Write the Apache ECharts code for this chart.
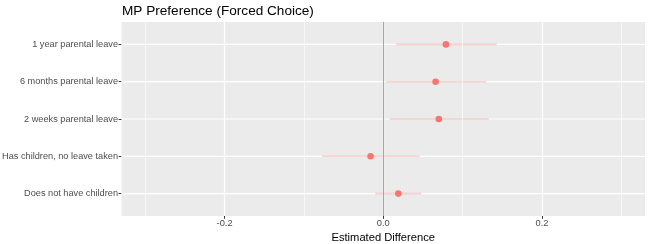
<!DOCTYPE html>
<html>
<head>
<meta charset="utf-8">
<script src="https://cdn.jsdelivr.net/npm/echarts@6/dist/echarts.min.js"></script>
<style>
html,body{margin:0;padding:0;background:#fff;}
#chart{width:648px;height:244px;}
</style>
</head>
<body>
<div id="chart"></div>
<script>
const titleText = 'MP Preference (Forced Choice)';
const xAxisTitle = 'Estimated Difference';
const categories = ['1 year parental leave', '6 months parental leave', '2 weeks parental leave', 'Has children, no leave taken', 'Does not have children'];
const estimates = [0.079, 0.066, 0.070, -0.016, 0.019];
const lowerCI = [0.016, 0.004, 0.008, -0.077, -0.010];
const upperCI = [0.143, 0.130, 0.133, 0.046, 0.048];
const xTickValues = [-0.2, 0, 0.2];
const xMinorValues = [-0.3, -0.1, 0.1, 0.3];
const xRange = [-0.33, 0.33];
const yRange = [-0.6, 4.6];
const referenceLine = [0];

const FONT = '"Liberation Sans", Arial, sans-serif';
const catIdx = categories.map((c, i) => i);

const chart = echarts.init(document.getElementById('chart'), null, {renderer: 'canvas'});

const vGrid = []
  .concat(xMinorValues.map(v => ({xAxis: v, lineStyle: {color: '#ffffff', width: 0.6, type: 'solid'}})))
  .concat(xTickValues.map(v => ({xAxis: v, lineStyle: {color: '#ffffff', width: 1.2, type: 'solid'}})));

const option = {
  animation: false,
  backgroundColor: '#ffffff',
  title: {
    text: titleText,
    left: 122,
    top: 4,
    padding: 0,
    textStyle: {fontFamily: FONT, fontSize: 13.6, fontWeight: 'normal', color: '#000000'}
  },
  grid: {
    left: 121.5, right: 3, top: 22, bottom: 28,
    show: true, backgroundColor: '#EBEBEB', borderWidth: 0,
    containLabel: false,
    outerBoundsMode: 'none'
  },
  xAxis: {
    type: 'value',
    position: 'bottom',
    min: xRange[0], max: xRange[1],
    name: xAxisTitle,
    nameLocation: 'middle',
    nameGap: 9,
    nameTextStyle: {fontFamily: FONT, fontSize: 11.2, color: '#000000'},
    axisLine: {show: false, onZero: false},
    axisTick: {show: true, customValues: xTickValues, length: 2.8, lineStyle: {color: '#333333', width: 1}},
    axisLabel: {
      show: true, customValues: xTickValues, margin: 3,
      fontFamily: FONT, fontSize: 9.3, color: '#4D4D4D',
      formatter: v => v.toFixed(1)
    },
    splitLine: {show: false}
  },
  yAxis: {
    type: 'value',
    position: 'left',
    min: yRange[0], max: yRange[1],
    inverse: true,
    axisLine: {show: false, onZero: false},
    axisTick: {show: true, customValues: catIdx, length: 2.8, lineStyle: {color: '#333333', width: 1}},
    axisLabel: {
      show: true, customValues: catIdx, margin: 3.5,
      fontFamily: FONT, fontSize: 9.2, color: '#4D4D4D',
      formatter: v => categories[Math.round(v)]
    },
    splitLine: {show: false}
  },
  series: [
    {
      type: 'line',
      data: [],
      z: 1,
      silent: true,
      markLine: {
        silent: true,
        symbol: ['none', 'none'],
        label: {show: false},
        emphasis: {disabled: true},
        animation: false,
        data: vGrid
      }
    },
    {
      type: 'custom',
      z: 1,
      silent: true,
      data: catIdx.map(i => [xRange[0], i]),
      encode: {x: 0, y: 1},
      renderItem: function (params, api) {
        const cs = params.coordSys;
        const p = api.coord([api.value(0), api.value(1)]);
        return {
          type: 'line',
          shape: {x1: cs.x, y1: p[1], x2: cs.x + cs.width, y2: p[1]},
          style: {stroke: '#ffffff', lineWidth: 1.2}
        };
      }
    },
    {
      type: 'custom',
      z: 2,
      silent: true,
      data: catIdx.map(i => [lowerCI[i], upperCI[i], i]),
      encode: {x: [0, 1], y: 2},
      renderItem: function (params, api) {
        const p1 = api.coord([api.value(0), api.value(2)]);
        const p2 = api.coord([api.value(1), api.value(2)]);
        return {
          type: 'line',
          shape: {x1: p1[0], y1: p1[1], x2: p2[0], y2: p2[1]},
          style: {stroke: 'rgba(248,118,109,0.33)', lineWidth: 1.6}
        };
      }
    },
    {
      type: 'line',
      data: [],
      z: 3,
      silent: true,
      markLine: {
        silent: true,
        symbol: ['none', 'none'],
        label: {show: false},
        emphasis: {disabled: true},
        animation: false,
        data: referenceLine.map(v => ({xAxis: v, lineStyle: {color: '#A6A6A6', width: 1, type: 'solid'}}))
      }
    },
    {
      type: 'scatter',
      z: 4,
      silent: true,
      symbol: 'circle',
      symbolSize: 6.6,
      itemStyle: {color: '#F8766D', opacity: 1},
      data: catIdx.map(i => [estimates[i], i])
    }
  ]
};
chart.setOption(option);
</script>
</body>
</html>
